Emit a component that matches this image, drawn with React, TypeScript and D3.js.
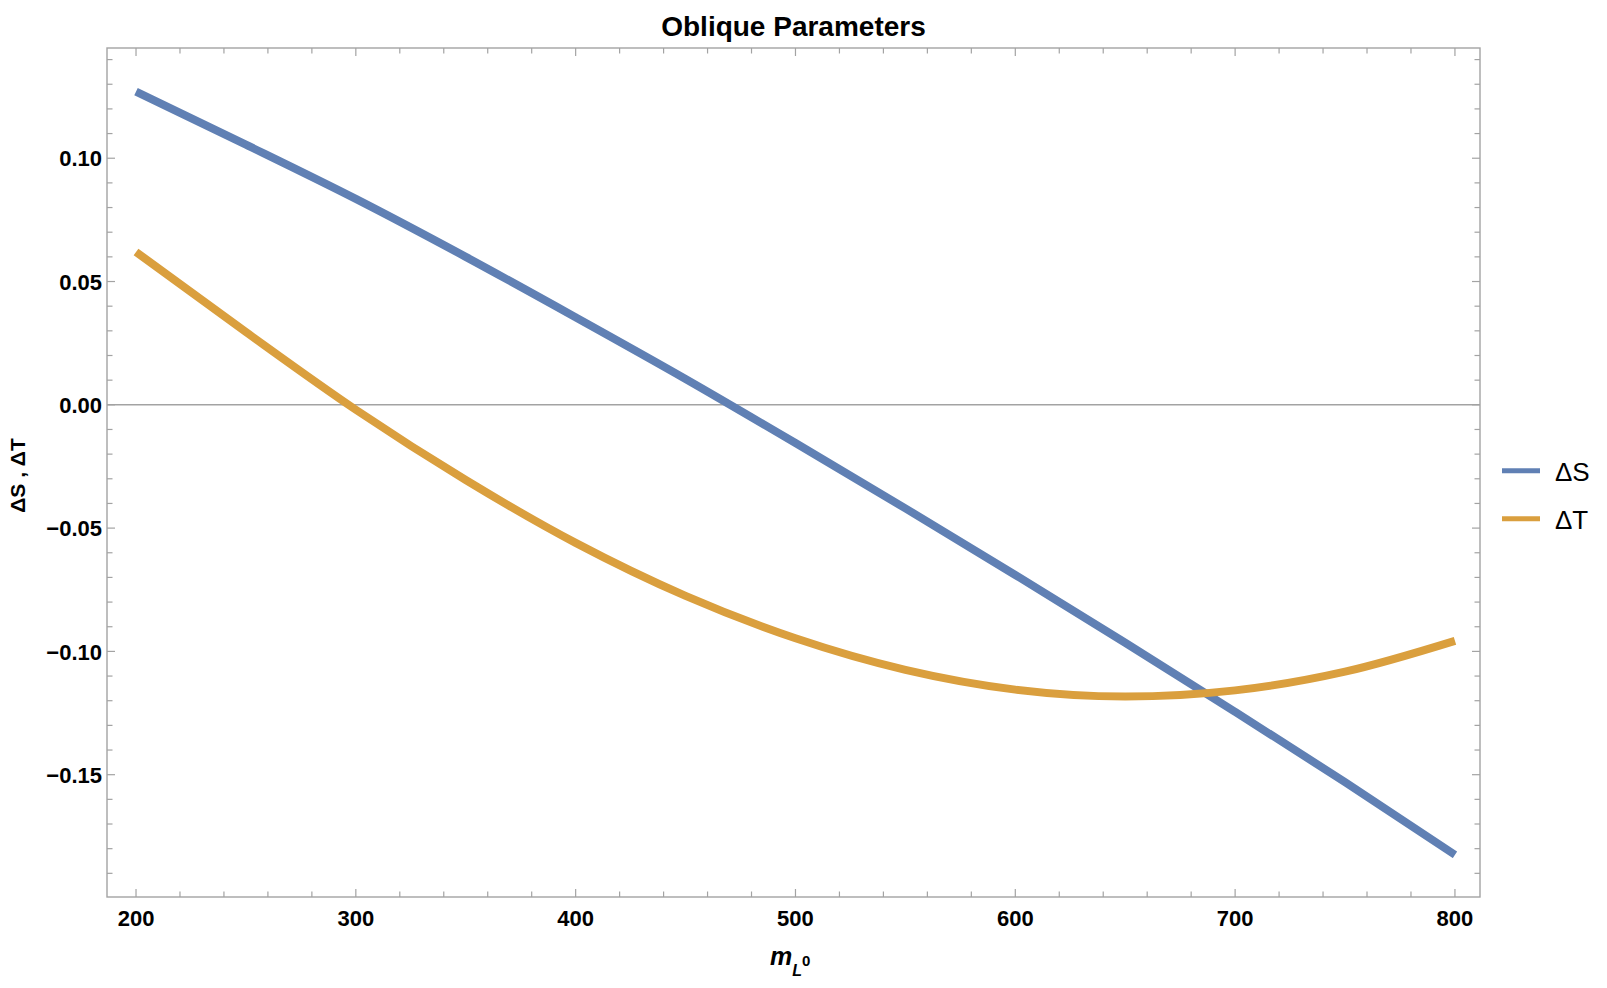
import React from 'react';
import * as d3 from 'd3';

// sampled values of the two oblique parameters versus m_L0
const mValues = [200, 250, 300, 350, 400, 450, 500, 550, 600, 650, 700, 750, 800];
const deltaS = [0.127, 0.1055, 0.0835, 0.060, 0.0355, 0.0105, -0.0155, -0.042, -0.069, -0.0965, -0.1245, -0.153, -0.1825];
const deltaT = [0.062, 0.0295, -0.002, -0.0305, -0.056, -0.0775, -0.0947, -0.1075, -0.1155, -0.1183, -0.1158, -0.1082, -0.0957];

const xTicks = [200, 300, 400, 500, 600, 700, 800];
const yTicks = [-0.15, -0.1, -0.05, 0, 0.05, 0.1];
const yTickLabels = ['\u22120.15', '\u22120.10', '\u22120.05', '0.00', '0.05', '0.10'];

const seriesNames = ['\u0394S', '\u0394T'];
const seriesColors = ['#6080b4', '#da9f3e'];

const W = 1607;
const H = 988;
const margin = { top: 48, right: 127, bottom: 91, left: 107 };
const font = '"Liberation Sans", Arial, Helvetica, sans-serif';
const frameColor = '#a3a3a3';

export default function App() {
  const x = d3.scaleLinear().domain([186.8, 811.4]).range([margin.left, W - margin.right]);
  const y = d3.scaleLinear().domain([-0.1996, 0.1447]).range([H - margin.bottom, margin.top]);

  const line = d3.line<number>()
    .x((_, i) => x(mValues[i]))
    .y(d => y(d))
    .curve(d3.curveMonotoneX);

  const x0 = margin.left, x1 = W - margin.right;
  const y0 = margin.top, y1 = H - margin.bottom;

  // minor ticks every 20 on x, every 0.01 on y
  const xMinor = d3.range(200, 801, 20);
  const yMinor = d3.range(-19, 15).map(v => v / 100);
  const isMajorX = (v: number) => v % 100 === 0;
  const isMajorY = (v: number) => Math.abs(Math.round(v * 100) % 5) === 0;

  return (
    <svg width={W} height={H} style={{ position: 'absolute', left: 0, top: 0, background: '#fff' }} fontFamily={font}>
      {/* title */}
      <text x={(x0 + x1) / 2} y={36} textAnchor="middle" fontWeight="bold" fontSize={28}>Oblique Parameters</text>

      {/* zero line */}
      <line x1={x0} x2={x1} y1={y(0)} y2={y(0)} stroke={frameColor} strokeWidth={1.5} />

      {/* ticks */}
      {xMinor.map(v => {
        const len = isMajorX(v) ? 8 : 5.5;
        return (
          <g key={'xt' + v} stroke={frameColor} strokeWidth={1.2}>
            <line x1={x(v)} x2={x(v)} y1={y1} y2={y1 - len} />
            <line x1={x(v)} x2={x(v)} y1={y0} y2={y0 + len} />
          </g>
        );
      })}
      {yMinor.map(v => {
        const len = isMajorY(v) ? 8 : 5.5;
        return (
          <g key={'yt' + v} stroke={frameColor} strokeWidth={1.2}>
            <line x1={x0} x2={x0 + len} y1={y(v)} y2={y(v)} />
            <line x1={x1} x2={x1 - len} y1={y(v)} y2={y(v)} />
          </g>
        );
      })}

      {/* frame */}
      <rect x={x0} y={y0} width={x1 - x0} height={y1 - y0} fill="none" stroke={frameColor} strokeWidth={1.4} />

      {/* curves */}
      {[deltaS, deltaT].map((s, i) => (
        <path key={'s' + i} d={line(s) || ''} fill="none" stroke={seriesColors[i]} strokeWidth={8} />
      ))}

      {/* tick labels */}
      {xTicks.map(v => (
        <text key={'xl' + v} x={x(v)} y={926} textAnchor="middle" fontWeight="bold" fontSize={22}>{v}</text>
      ))}
      {yTicks.map((v, i) => (
        <text key={'yl' + v} x={102} y={y(v) + 8.2} textAnchor="end" fontWeight="bold" fontSize={22}>{yTickLabels[i]}</text>
      ))}

      {/* axis labels */}
      <text x={770} y={965} fontWeight="bold">
        <tspan fontStyle="italic" fontSize={25}>m</tspan>
        <tspan fontStyle="italic" fontSize={16} dy={11}>L</tspan>
        <tspan fontSize={15} dy={-10}>0</tspan>
      </text>
      <text transform="translate(25,475.5) rotate(-90)" textAnchor="middle" fontWeight="bold" fontSize={21}>{'\u0394S , \u0394T'}</text>

      {/* legend */}
      {seriesNames.map((n, i) => (
        <g key={'lg' + i}>
          <line x1={1502} x2={1540} y1={470.7 + i * 48} y2={470.7 + i * 48} stroke={seriesColors[i]} strokeWidth={5} />
          <text x={1555} y={481 + i * 47.5} fontSize={26}>{n}</text>
        </g>
      ))}
    </svg>
  );
}
